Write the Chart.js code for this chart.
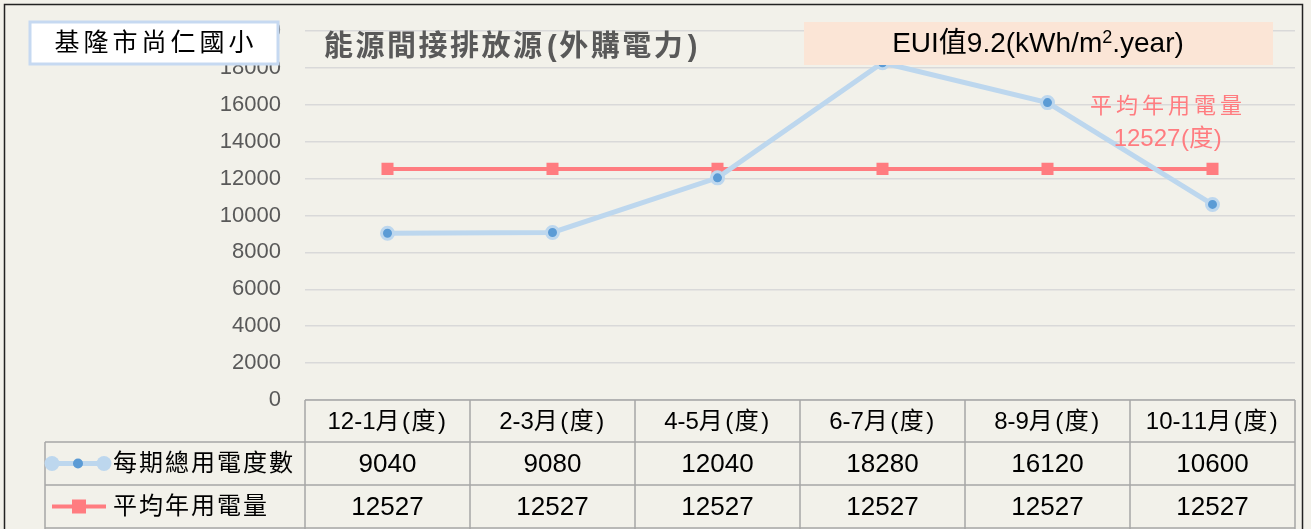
<!DOCTYPE html>
<html>
<head>
<meta charset="utf-8">
<script src="https://cdn.jsdelivr.net/npm/chart.js@4"></script>
<style>
  body { margin: 0; background: #f2f1ea; }
  #wrap { width: 1311px; height: 529px; position: relative; }
</style>
</head>
<body>
<div id="wrap"><canvas id="euiChart"></canvas></div>
<script>
const categories = ["12-1月(度)", "2-3月(度)", "4-5月(度)", "6-7月(度)", "8-9月(度)", "10-11月(度)"];
const usage = [9040, 9080, 12040, 18280, 16120, 10600];
const average = [12527, 12527, 12527, 12527, 12527, 12527];
const seriesNames = ["每期總用電度數", "平均年用電量"];
const yTicks = { min: 0, max: 20000, step: 2000 };

const CJK = '"Liberation Sans", Arial, "Noto Sans CJK TC", sans-serif';

// mixed text: CJK glyphs get a fixed pitch, latin glyphs keep their width
function mixedText(ctx, text, x, y, o) {
  const isCjk = ch => ch.charCodeAt(0) > 0x2e80;
  const adv = ch => isCjk(ch) ? o.size + o.cjk : ctx.measureText(ch).width + (/[()]/.test(ch) ? o.paren : 0);
  const chars = Array.from(text);
  let w = 0;
  chars.forEach(ch => { w += adv(ch); });
  if (isCjk(chars[chars.length - 1])) w -= o.cjk;
  let sx = x;
  if (o.align === "center") sx = x - w / 2;
  else if (o.align === "right") sx = x - w;
  ctx.textAlign = "left";
  chars.forEach(ch => {
    const off = /[()]/.test(ch) ? o.paren / 2 : 0;
    ctx.fillText(ch, sx + off, y);
    sx += adv(ch);
  });
}

// background, table, boxes and titles
const decor = {
  id: "decor",
  beforeDraw(chart) {
    const ctx = chart.ctx;
    ctx.save();
    ctx.fillStyle = "#f2f1ea";
    ctx.fillRect(0, 0, chart.width, chart.height);
    ctx.strokeStyle = "#222";
    ctx.lineWidth = 1.5;
    ctx.strokeRect(4.5, 4.5, 1298, 560);
    ctx.restore();
  },
  afterDraw(chart) {
    const ctx = chart.ctx;
    const area = chart.chartArea;
    const x = chart.scales.x;
    const colW = (area.right - area.left) / categories.length;
    const rows = [area.bottom, 442, 485, 528];
    ctx.save();

    // data table grid
    ctx.strokeStyle = "#a6a6a6";
    ctx.lineWidth = 1.5;
    ctx.beginPath();
    ctx.moveTo(area.left, rows[0]); ctx.lineTo(area.right, rows[0]);
    ctx.moveTo(45, rows[1]); ctx.lineTo(area.right, rows[1]);
    ctx.moveTo(45, rows[2]); ctx.lineTo(area.right, rows[2]);
    ctx.moveTo(45, rows[3]); ctx.lineTo(area.right, rows[3]);
    ctx.moveTo(45, rows[1]); ctx.lineTo(45, 529);
    for (let i = 0; i <= categories.length; i++) {
      const px = area.left + i * colW;
      ctx.moveTo(px, rows[0]); ctx.lineTo(px, 529);
    }
    ctx.stroke();

    ctx.textBaseline = "middle";
    ctx.fillStyle = "#000";
    categories.forEach((c, i) => {
      const cx = x.getPixelForValue(i);
      ctx.font = "24px " + CJK;
      mixedText(ctx, c, cx, (rows[0] + rows[1]) / 2 + 1, { size: 23, cjk: 2, paren: 3, align: "center" });
      ctx.font = "26px " + CJK;
      ctx.textAlign = "center";
      ctx.fillText(String(usage[i]), cx, (rows[1] + rows[2]) / 2 + 1);
      ctx.fillText(String(average[i]), cx, (rows[2] + rows[3]) / 2 + 1);
    });

    // legend keys
    const y1 = (rows[1] + rows[2]) / 2, y2 = (rows[2] + rows[3]) / 2;
    ctx.strokeStyle = "#bdd7ee";
    ctx.lineWidth = 5;
    ctx.beginPath(); ctx.moveTo(52, y1); ctx.lineTo(104, y1); ctx.stroke();
    ctx.fillStyle = "#bdd7ee";
    [52, 104].forEach(px => { ctx.beginPath(); ctx.arc(px, y1, 7.5, 0, Math.PI * 2); ctx.fill(); });
    ctx.fillStyle = "#5b9bd5";
    ctx.beginPath(); ctx.arc(78, y1, 5, 0, Math.PI * 2); ctx.fill();
    ctx.strokeStyle = "#ff7c80";
    ctx.lineWidth = 4;
    ctx.beginPath(); ctx.moveTo(52, y2); ctx.lineTo(106, y2); ctx.stroke();
    ctx.fillStyle = "#ff7c80";
    ctx.fillRect(72, y2 - 7, 14, 14);

    ctx.fillStyle = "#000";
    ctx.font = "24px " + CJK;
    mixedText(ctx, seriesNames[0], 113, y1 + 1, { size: 24, cjk: 2, paren: 0, align: "left" });
    mixedText(ctx, seriesNames[1], 113, y2 + 1, { size: 24, cjk: 2, paren: 0, align: "left" });

    // school name box
    ctx.fillStyle = "#ffffff";
    ctx.fillRect(30, 22, 248, 42);
    ctx.strokeStyle = "#c6d9f1";
    ctx.lineWidth = 3;
    ctx.strokeRect(30, 22, 248, 42);
    ctx.fillStyle = "#000";
    ctx.font = "25px " + CJK;
    mixedText(ctx, "基隆市尚仁國小", 154, 44, { size: 25, cjk: 4, paren: 0, align: "center" });

    // chart title
    ctx.fillStyle = "#595959";
    ctx.font = "bold 29px " + CJK;
    mixedText(ctx, "能源間接排放源(外購電力)", 324, 48, { size: 29, cjk: 2.5, paren: 5, align: "left" });

    // EUI box
    ctx.fillStyle = "#fbe5d6";
    ctx.fillRect(804, 22, 469, 43);
    ctx.fillStyle = "#000";
    const head = "EUI值9.2(kWh/m", sup = "2", tail = ".year)";
    ctx.font = "28px " + CJK;
    const wHead = ctx.measureText(head).width;
    const wTail = ctx.measureText(tail).width;
    ctx.font = "18px " + CJK;
    const wSup = ctx.measureText(sup).width;
    let sx = 1038 - (wHead + wSup + wTail) / 2;
    ctx.textAlign = "left";
    ctx.font = "28px " + CJK;
    ctx.fillText(head, sx, 44);
    ctx.font = "18px " + CJK;
    ctx.fillText(sup, sx + wHead, 38);
    ctx.font = "28px " + CJK;
    ctx.fillText(tail, sx + wHead + wSup, 44);

    // average annotation
    ctx.fillStyle = "#ff7c80";
    ctx.font = "22px " + CJK;
    mixedText(ctx, "平均年用電量", 1166, 107, { size: 22, cjk: 4, paren: 0, align: "center" });
    ctx.font = "24px " + CJK;
    mixedText(ctx, average[0] + "(度)", 1168, 139, { size: 24, cjk: 0, paren: 1, align: "center" });
    ctx.restore();
  }
};

new Chart(document.getElementById("euiChart"), {
  type: "line",
  data: {
    labels: categories,
    datasets: [
      {
        label: seriesNames[0],
        data: usage,
        borderColor: "#bdd7ee",
        borderWidth: 5,
        pointBackgroundColor: "#5b9bd5",
        pointBorderColor: "#bdd7ee",
        pointBorderWidth: 3,
        pointRadius: 6,
        tension: 0
      },
      {
        label: seriesNames[1],
        data: average,
        borderColor: "#ff7c80",
        borderWidth: 4,
        pointStyle: "rect",
        pointBackgroundColor: "#ff7c80",
        pointBorderColor: "#ff7c80",
        pointBorderWidth: 0,
        pointRadius: 8.5,
        tension: 0
      }
    ]
  },
  options: {
    responsive: true,
    maintainAspectRatio: false,
    animation: false,
    layout: { padding: { left: 0, right: 16, top: 31, bottom: 129 } },
    plugins: { legend: { display: false }, tooltip: { enabled: false } },
    scales: {
      x: { display: false, offset: true },
      y: {
        min: yTicks.min,
        max: yTicks.max,
        afterFit(scale) {
          scale.width = 305;
          scale.paddingTop = 0;
          scale.paddingBottom = 0;
        },
        ticks: {
          stepSize: yTicks.step,
          padding: 24,
          color: "#595959",
          font: { size: 22, family: '"Liberation Sans", Arial, sans-serif' },
          callback: v => String(v)
        },
        grid: { color: "#d9d9d9", lineWidth: 1.5, drawTicks: false },
        border: { display: false }
      }
    }
  },
  plugins: [decor]
});
</script>
</body>
</html>
